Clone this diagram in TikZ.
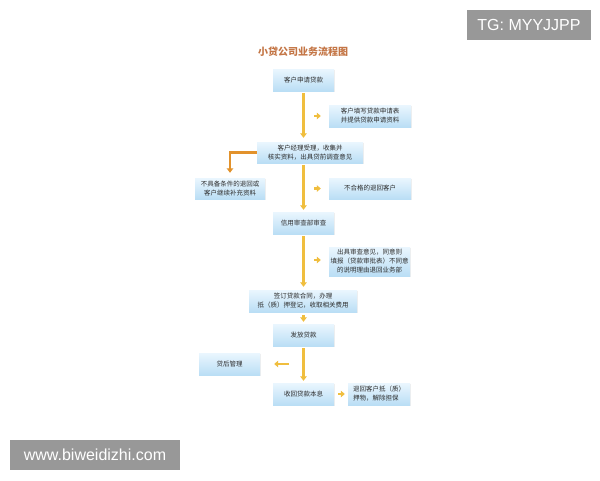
\documentclass[tikz,border=0pt]{standalone}
\usepackage{fontspec}
\newfontfamily\cjk{Noto Sans CJK SC}
\newfontfamily\wmfont{Liberation Sans}
\usetikzlibrary{arrows.meta}
\usetikzlibrary{shadows}
\definecolor{boxtop}{RGB}{234,246,254}
\definecolor{boxbot}{RGB}{186,222,245}
\definecolor{flowc}{RGB}{240,190,62}
\definecolor{elbowc}{RGB}{226,146,44}
\definecolor{titlec}{RGB}{196,118,70}
\definecolor{textc}{RGB}{45,45,45}
\definecolor{wmgray}{RGB}{152,152,152}
\tikzset{
	procbox/.style={top color=boxtop,bottom color=boxbot,draw=none,
		drop shadow={opacity=0.12,shadow xshift=0.8pt,shadow yshift=-0.8pt},
		text=textc,align=center,inner sep=1pt,
		font=\cjk\fontsize{6.5}{9}\selectfont},
	flow/.style={color=flowc,line width=2.2pt,-{Triangle[length=4.5pt,width=6.5pt]}},
	stub/.style={color=flowc,line width=2.2pt,-{Triangle[length=4pt,width=6.5pt]}},
	wmark/.style={fill=wmgray,text=white,inner sep=0pt,font=\wmfont\fontsize{16}{16}\selectfont}
}
\begin{document}
\begin{tikzpicture}[x=1pt,y=-1pt]
	\useasboundingbox[fill=white] (0,0) rectangle (600,480);

	\node[text=titlec,font=\cjk\bfseries\fontsize{10}{12}\selectfont] (title) at (303,52) {小贷公司业务流程图};

	\node[procbox,minimum width=61pt,minimum height=22pt] (b1) at (303.5,80) {客户申请贷款};
	\node[procbox,minimum width=82pt,minimum height=22pt] (s1) at (370,116) {客户填写贷款申请表\\并提供贷款申请资料};
	\node[procbox,minimum width=106pt,minimum height=21pt] (b2) at (310,152.5) {客户经理受理，收集并\\核实资料，出具贷前调查意见};
	\node[procbox,minimum width=70pt,minimum height=21pt] (l1) at (230,188.5) {不具备条件的退回或\\客户继续补充资料};
	\node[procbox,minimum width=82pt,minimum height=21pt] (s2) at (370,188.5) {不合格的退回客户};
	\node[procbox,minimum width=61pt,minimum height=22pt] (b3) at (303.5,223) {信用审查部审查};
	\node[procbox,minimum width=81pt,minimum height=29pt] (s3) at (369.5,261.5) {出具审查意见，同意则\\填报（贷款审批表）不同意\\的说明理由退回业务部};
	\node[procbox,minimum width=108pt,minimum height=22pt] (b4) at (303,301) {签订贷款合同，办理\\抵（质）押登记，收取相关费用};
	\node[procbox,minimum width=61pt,minimum height=22pt] (b5) at (303.5,335) {发放贷款};
	\node[procbox,minimum width=61pt,minimum height=22pt] (l2) at (229.5,364) {贷后管理};
	\node[procbox,minimum width=61pt,minimum height=22pt] (b6) at (303.5,394) {收回贷款本息};
	\node[procbox,align=left,minimum width=62pt,minimum height=22pt] (s4) at (379,394) {退回客户抵（质）\\押物，解除担保};

	\draw[flow,shorten <=2pt,shorten >=4pt] (b1.south) -- (b1.south |- b2.north);
	\draw[flow,shorten <=2pt,shorten >=2pt] (b3.north |- b2.south) -- (b3.north);
	\draw[flow,shorten <=2pt,shorten >=3pt] (b3.south) -- (b3.south |- b4.north);
	\draw[flow,shorten <=3pt,shorten >=2pt] (b5.north |- b4.south) -- (b5.north);
	\draw[flow,shorten <=2pt,shorten >=2pt] (b5.south) -- (b6.north);
	\draw[flow,color=elbowc,shorten >=5pt] (b2.west) -| (l1.north);

	\coordinate (a1) at (314,116);
	\coordinate (a2) at (314,188.5);
	\coordinate (a3) at (314,260);
	\coordinate (a4) at (289,364);
	\draw[stub,shorten >=8pt] (a1) -- (s1.west);
	\draw[stub,shorten >=8pt] (a2) -- (s2.west);
	\draw[stub,shorten >=8pt] (a3) -- (a3 -| s3.west);
	\draw[stub,shorten >=14pt] (a4) -- (l2.east);
	\draw[stub,shorten <=4pt,shorten >=3pt] (b6.east) -- (s4.west);

	\node[wmark,minimum width=124pt,minimum height=30pt] (tg) at (529,25) {TG: MYYJJPP};
	\node[wmark,minimum width=170pt,minimum height=30pt] (web) at (95,455) {www.biweidizhi.com};
\end{tikzpicture}
\end{document}
